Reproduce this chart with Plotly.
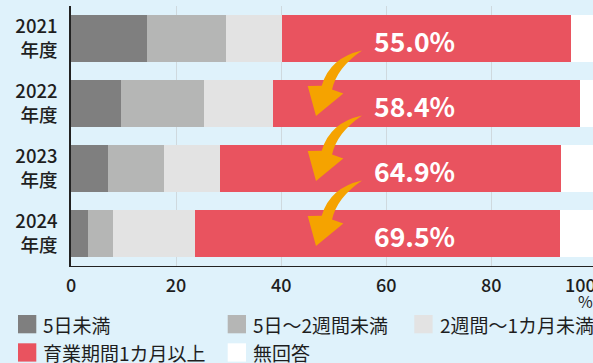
import plotly.graph_objects as go

# Survey data: share of respondents by length of childcare leave taken (%)
years = ["2021", "2022", "2023", "2024"]
year_labels = ["2021<br>年度", "2022<br>年度", "2023<br>年度", "2024<br>年度"]
series_names = ["5日未満", "5日〜2週間未満", "2週間〜1カ月未満", "育業期間1カ月以上", "無回答"]
under_5_days = [14.5, 9.5, 7.0, 3.2]
days5_to_weeks2 = [15.0, 15.8, 10.7, 4.8]
weeks2_to_month1 = [10.7, 13.1, 10.7, 15.6]
month1_or_more = [55.0, 58.4, 64.9, 69.5]
no_answer = [4.8, 3.2, 6.7, 6.9]
x_ticks = [0, 20, 40, 60, 80, 100]

series_values = [under_5_days, days5_to_weeks2, weeks2_to_month1, month1_or_more, no_answer]
colors = ["#7f7f7f", "#b5b6b5", "#e3e3e3", "#e9535f", "#ffffff"]

BG = "#dff2fb"
FONT = "Noto Sans CJK JP"
TEXT = "#1e1e1e"

W, H = 593, 363
ML, MR, MT, MB = 71, 0, 6, 97
X_MAX = 99.35  # right edge of the plotting area, in percent
ypos = list(range(len(years)))

fig = go.Figure()
for name, vals, col in zip(series_names, series_values, colors):
    fig.add_trace(go.Bar(
        y=ypos, x=vals, name=name, orientation="h",
        marker=dict(color=col, line=dict(width=0)),
        width=0.72, showlegend=False, hoverinfo="x+name",
    ))

# Value labels for the "1 month or more" share
for i, v in enumerate(month1_or_more):
    fig.add_annotation(
        x=65.4, y=i, xref="x", yref="y", text=f"<b>{v:.1f}%</b>",
        showarrow=False, yshift=-2,
        font=dict(family=FONT, size=26.5, color="white"),
    )

# Curved orange arrows showing the upward trend between consecutive years
arrow = [
    ("M", 55.39, 0.186),
    ("Q", 49.30, 0.294, 47.72, 0.725),
    ("L", 45.06, 0.732),
    ("L", 46.63, 1.194),
    ("L", 51.83, 0.848),
    ("L", 49.68, 0.786),
    ("Q", 50.63, 0.448, 55.39, 0.186),
]
for i in range(len(years) - 1):
    parts = []
    for seg in arrow:
        cmd, nums = seg[0], seg[1:]
        coords = " ".join(f"{nums[k]},{nums[k + 1] + i}" for k in range(0, len(nums), 2))
        parts.append(f"{cmd}{coords}")
    fig.add_shape(type="path", path=" ".join(parts) + " Z", xref="x", yref="y",
                  fillcolor="#f5a300", line=dict(width=0), layer="above")


def paper_x(px):
    return (px - ML) / (W - ML - MR)


def paper_y(py):
    return (H - MB - py) / (H - MT - MB)


# Legend built from squares and labels, two rows
legend_cols = [18, 227.7, 414.3]
legend_rows = [315, 343.3]
SQ = 18.3
for k, (name, col) in enumerate(zip(series_names, colors)):
    r, c = divmod(k, 3)
    x0, y0 = legend_cols[c], legend_rows[r]
    fig.add_shape(type="rect", xref="paper", yref="paper",
                  x0=paper_x(x0), x1=paper_x(x0 + SQ),
                  y0=paper_y(y0), y1=paper_y(y0 + SQ),
                  fillcolor=col, line=dict(width=0))
    fig.add_annotation(xref="paper", yref="paper", x=paper_x(x0 + SQ + 5),
                       y=paper_y(y0 + SQ / 2), text=name, showarrow=False,
                       xanchor="left", yanchor="middle",
                       font=dict(family=FONT, size=19, color=TEXT))

# The "100" tick and the unit sit at the right edge
fig.add_annotation(xref="paper", yref="paper", x=paper_x(563), y=paper_y(284),
                   text="100", showarrow=False, xanchor="left", yanchor="middle",
                   font=dict(family=FONT, size=18, weight=500, color=TEXT))
fig.add_annotation(xref="paper", yref="paper", x=paper_x(585), y=paper_y(301),
                   text="%", showarrow=False, xanchor="center", yanchor="middle",
                   font=dict(family=FONT, size=16, color=TEXT))

fig.update_layout(
    width=W, height=H,
    margin=dict(l=ML, r=MR, t=MT, b=MB, pad=0),
    paper_bgcolor=BG, plot_bgcolor=BG,
    barmode="stack",
    font=dict(family=FONT, color=TEXT),
)
fig.update_xaxes(
    range=[0, X_MAX], tickvals=x_ticks, ticktext=[str(t) for t in x_ticks],
    showgrid=True, gridcolor="#cfd9de", gridwidth=1,
    showline=True, linecolor="#222222", linewidth=1,
    zeroline=False, ticks="", ticklabelstandoff=3,
    tickfont=dict(family=FONT, size=18, weight=500, color=TEXT),
    fixedrange=True,
)
fig.update_yaxes(
    range=[3.5, -0.5], tickvals=ypos, ticktext=year_labels,
    showgrid=False, zeroline=False,
    showline=True, linecolor="#222222", linewidth=1.5,
    ticks="", ticklabelstandoff=8,
    tickfont=dict(family=FONT, size=18.5, weight=500, color=TEXT),
    fixedrange=True,
)

fig.write_html("out.html")
